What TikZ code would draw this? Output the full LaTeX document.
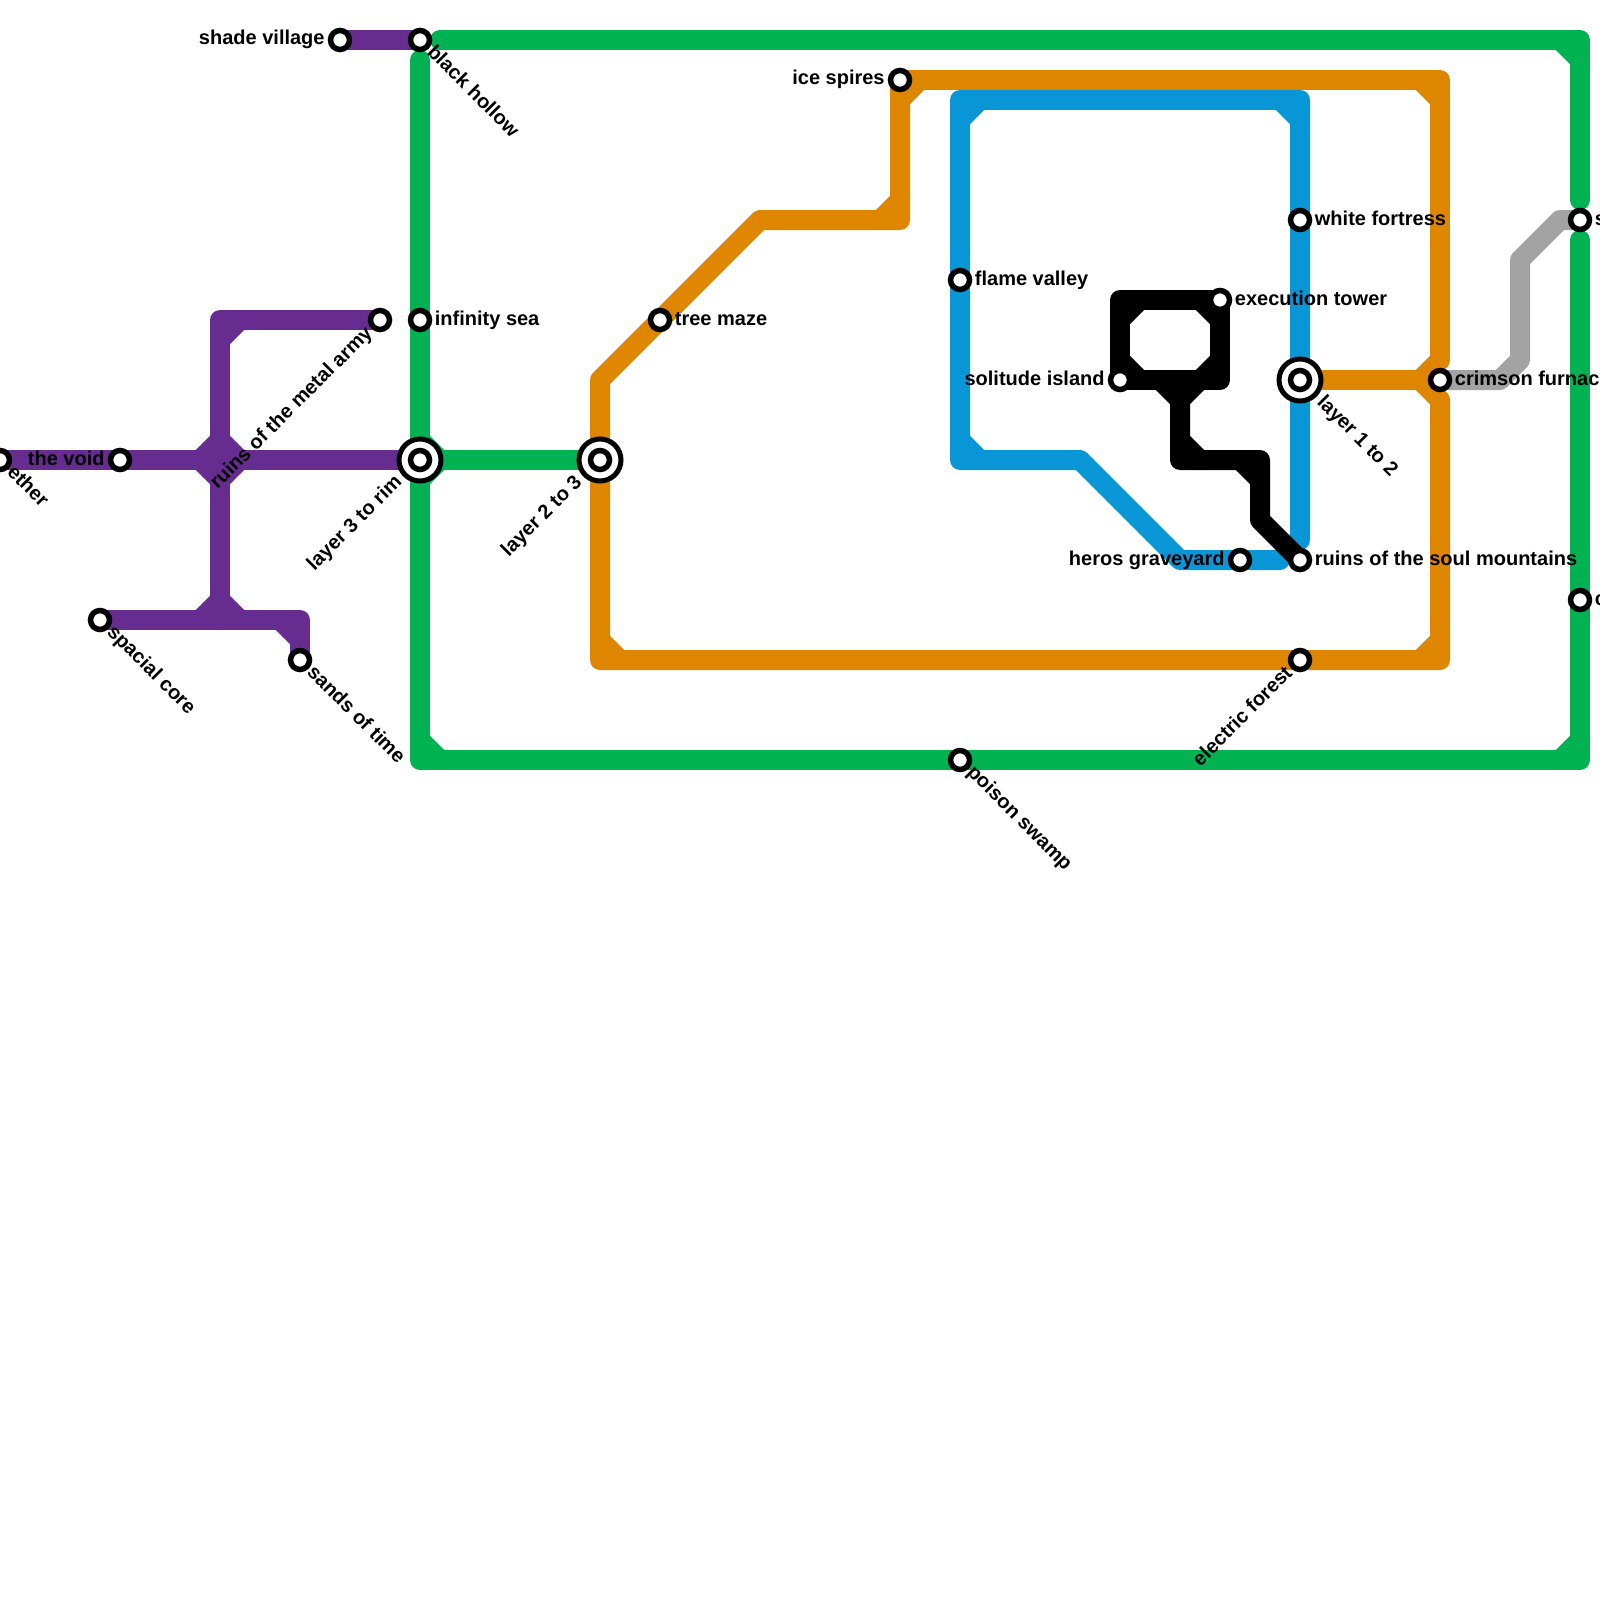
\documentclass[tikz,border=0pt]{standalone}
\usepackage{fontspec}
\setmainfont{Liberation Sans}
\usetikzlibrary{backgrounds}
\definecolor{mgreen}{HTML}{00B251}
\definecolor{mpurple}{HTML}{662C90}
\definecolor{morange}{HTML}{DF8600}
\definecolor{mblue}{HTML}{0896D7}
\definecolor{mgrey}{HTML}{A3A3A3}
\tikzset{
  route/.style={draw=#1,line width=10pt,line cap=round,line join=round},
  station/.style={circle,draw=black,fill=white,line width=2.75pt,minimum size=9.5pt,inner sep=0pt},
  interchange/.style={circle,draw=black,fill=white,line width=2.5pt,minimum size=21pt,inner sep=0pt},
  lab/.style={font=\bfseries\fontsize{10pt}{12pt}\selectfont,inner sep=0pt,text=black},
  labR/.style={lab,anchor=base west},
  labL/.style={lab,anchor=base east},
  labDR/.style={lab,anchor=base west,rotate=-45},
  labUR/.style={lab,anchor=base east,rotate=45}
}
\begin{document}
\begin{tikzpicture}[x=0.5pt,y=-0.5pt]
\useasboundingbox (0,0) rectangle (1600,1600);
% stations
\node[station] (shade) at (340,40) {};
\node[station] (hollow) at (420,40) {};
\node[station] (spires) at (900,80) {};
\node[station] (fortress) at (1300,220) {};
\node[station] (sst) at (1580,220) {};
\node[station] (valley) at (960,280) {};
\node[station] (tower) at (1220,300) {};
\node[station] (army) at (380,320) {};
\node[station] (sea) at (420,320) {};
\node[station] (maze) at (660,320) {};
\node[station] (island) at (1120,380) {};
\node[interchange] (lonetwo) at (1300,380) {};
\node[station] (lonetwoc) at (1300,380) {};
\node[station] (furnace) at (1440,380) {};
\node[station] (ether) at (0,460) {};
\node[station] (void) at (120,460) {};
\node[interchange] (lthreerim) at (420,460) {};
\node[station] (lthreerimc) at (420,460) {};
\node[interchange] (ltwothree) at (600,460) {};
\node[station] (ltwothreec) at (600,460) {};
\node[station] (graveyard) at (1240,560) {};
\node[station] (soul) at (1300,560) {};
\node[station] (cst) at (1580,600) {};
\node[station] (spacial) at (100,620) {};
\node[station] (sands) at (300,660) {};
\node[station] (forest) at (1300,660) {};
\node[station] (swamp) at (960,760) {};
% free ends
\coordinate (gA) at (440,40);
\coordinate (gB) at (1580,200);
\coordinate (gC) at (1580,240);
\coordinate (gD) at (420,60);
\coordinate (oA) at (1440,360);
\coordinate (oB) at (1440,400);
\coordinate (bA) at (1280,560);
\coordinate (bB) at (1300,540);
% labels
\node[labL] (tshade) at (325,45) {shade village};
\node[labDR] (thollow) at (426,53) {black hollow};
\node[labL] (tspires) at (885,85) {ice spires};
\node[labR] (tfortress) at (1314.5,225) {white fortress};
\node[labR] (tsst) at (1594.5,225) {s};
\node[labR] (tvalley) at (974.5,285) {flame valley};
\node[labR] (ttower) at (1234.5,305) {execution tower};
\node[labUR] (tarmy) at (373.5,334) {ruins of the metal army};
\node[labR] (tsea) at (434.5,325) {infinity sea};
\node[labR] (tmaze) at (674.5,325) {tree maze};
\node[labL] (tisland) at (1105,385) {solitude island};
\node[labDR] (tlonetwo) at (1316,403) {layer 1 to 2};
\node[labR] (tfurnace) at (1454.5,385) {crimson furnace};
\node[labDR] (tether) at (6,473) {ether};
\node[labL] (tvoid) at (105,465) {the void};
\node[labUR] (tlthreerim) at (403,483) {layer 3 to rim};
\node[labUR] (tltwothree) at (583,483) {layer 2 to 3};
\node[labL] (tgraveyard) at (1225,565) {heros graveyard};
\node[labR] (tsoul) at (1314.5,565) {ruins of the soul mountains};
\node[labR] (tcst) at (1594.5,605) {c};
\node[labDR] (tspacial) at (106,633) {spacial core};
\node[labDR] (tsands) at (306,673) {sands of time};
\node[labUR] (tforest) at (1293.5,674) {electric forest};
\node[labDR] (tswamp) at (966,773) {poison swamp};
% lines
\begin{scope}[on background layer]
\draw[route=mgreen] (gA) -- (1580,40) -- (gB);
\draw[route=mgreen] (gC) -- (1580,760) -- (420,760) -- (gD);
\draw[route=mgreen] (lthreerim.center) -- (ltwothree.center);
\draw[route=mgreen] (1560,40) -- (1580,60) (1560,760) -- (1580,740) (420,740) -- (440,760)
  (420,440) -- (440,460) -- (420,480);
\draw[route=mpurple] (shade.center) -- (hollow.center);
\draw[route=mpurple] (ether.center) -- (lthreerim.center);
\draw[route=mpurple] (army.center) -- (220,320) -- (220,620);
\draw[route=mpurple] (spacial.center) -- (300,620) -- (sands.center);
\draw[route=mpurple] (240,320) -- (220,340)
  (200,460) -- (220,440) -- (240,460) -- (220,480) -- cycle
  (200,620) -- (220,600) -- (240,620)
  (280,620) -- (300,640);
\draw[route=morange] (spires.center) -- (1440,80) -- (oA);
\draw[route=morange] (lonetwo.center) -- (furnace.center);
\draw[route=morange] (oB) -- (1440,660) -- (600,660) -- (600,380) -- (760,220) -- (900,220) -- (spires.center);
\draw[route=morange] (1420,80) -- (1440,100) (1420,380) -- (oA) (1420,380) -- (oB)
  (1440,640) -- (1420,660) (600,640) -- (620,660) (880,220) -- (900,200) (900,100) -- (920,80);
\draw[route=mblue] (bB) -- (1300,100) -- (960,100) -- (960,460) -- (1080,460) -- (1180,560) -- (bA);
\draw[route=mblue] (960,120) -- (980,100) (1280,100) -- (1300,120) (960,440) -- (980,460);
\draw[route=black] (island.center) -- (1120,300) -- (tower.center) -- (1220,380) -- (island.center);
\draw[route=black] (1180,380) -- (1180,460) -- (1260,460) -- (1260,520) -- (soul.center);
\draw[route=black] (1140,300) -- (1120,320) (1200,300) -- (1220,320) (1220,360) -- (1200,380) (1120,360) -- (1140,380)
  (1160,380) -- (1180,400) -- (1200,380) (1180,440) -- (1200,460) (1240,460) -- (1260,480);
\draw[route=mgrey] (furnace.center) -- (1500,380) -- (1520,360) -- (1520,260) -- (1560,220) -- (sst.center);
\end{scope}
\end{tikzpicture}
\end{document}
